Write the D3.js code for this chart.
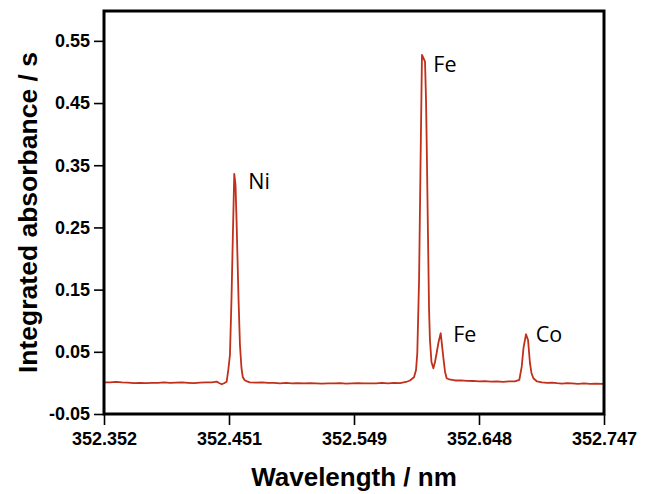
<!DOCTYPE html>
<html>
<head>
<meta charset="utf-8">
<script src="https://cdn.jsdelivr.net/npm/d3@7"></script>
<style>
  html, body { margin: 0; padding: 0; background: #fff; }
  svg { display: block; }
</style>
</head>
<body>
<svg id="chart" width="645" height="494"></svg>
<script>
// Absorption spectrum around 352.5 nm (Ni, Fe, Co lines)
const wavelength = [
  352.3520, 352.3567, 352.3615, 352.3662, 352.3710, 352.3757, 352.3804, 352.3852,
  352.3899, 352.3947, 352.3994, 352.4041, 352.4089, 352.4136, 352.4184, 352.4231,
  352.4278, 352.4326, 352.4373, 352.4410, 352.4429, 352.4450, 352.4468, 352.4489,
  352.4502, 352.4515, 352.4527, 352.4539, 352.4549, 352.4559, 352.4567, 352.4573,
  352.4583, 352.4594, 352.4606, 352.4616, 352.4630, 352.4650, 352.4673, 352.4721,
  352.4768, 352.4816, 352.4863, 352.4910, 352.4958, 352.5005, 352.5053, 352.5100,
  352.5147, 352.5195, 352.5242, 352.5290, 352.5337, 352.5384, 352.5432, 352.5479,
  352.5527, 352.5574, 352.5621, 352.5669, 352.5716, 352.5764, 352.5811, 352.5858,
  352.5906, 352.5937, 352.5969, 352.5985, 352.5995, 352.6009, 352.6020, 352.6032,
  352.6043, 352.6056, 352.6064, 352.6069, 352.6080, 352.6088, 352.6095, 352.6107,
  352.6122, 352.6135, 352.6148, 352.6163, 352.6180, 352.6190, 352.6200, 352.6214,
  352.6227, 352.6248, 352.6293, 352.6340, 352.6388, 352.6435, 352.6483, 352.6530,
  352.6577, 352.6625, 352.6672, 352.6720, 352.6767, 352.6801, 352.6820, 352.6834,
  352.6854, 352.6870, 352.6885, 352.6897, 352.6912, 352.6941, 352.6980, 352.7020,
  352.7059, 352.7099, 352.7138, 352.7178, 352.7217, 352.7265, 352.7312, 352.7359,
  352.7407, 352.7462
];
const absorbance = [
   0.0007,  0.0010,  0.0015,  0.0008,  0.0005, -0.0005, -0.0001, -0.0003,
  -0.0001,  0.0002,  0.0007,  0.0000,  0.0005,  0.0008,  0.0002, -0.0003,
   0.0004,  0.0007,  0.0008,  0.0020, -0.0001, -0.0022, -0.0005,  0.0020,
   0.0208,  0.0449,  0.1334,  0.2460,  0.3361,  0.3184,  0.2621,  0.2138,
   0.1334,  0.0610,  0.0240,  0.0095,  0.0047,  0.0023,  0.0010,  0.0005,
   0.0008, -0.0001,  0.0002, -0.0006, -0.0001, -0.0008, -0.0005, -0.0009,
  -0.0003, -0.0008, -0.0011, -0.0006, -0.0009, -0.0005, -0.0011, -0.0008,
  -0.0003, -0.0009, -0.0006, -0.0008, -0.0001, -0.0006,  0.0000, -0.0003,
   0.0015,  0.0039,  0.0090,  0.0208,  0.0476,  0.1655,  0.3425,  0.5275,
   0.5226,  0.5167,  0.4551,  0.3907,  0.2299,  0.1173,  0.0690,  0.0336,
   0.0235,  0.0336,  0.0481,  0.0658,  0.0798,  0.0610,  0.0422,  0.0180,
   0.0074,  0.0055,  0.0039,  0.0040,  0.0032,  0.0031,  0.0026,  0.0028,
   0.0021,  0.0024,  0.0018,  0.0024,  0.0026,  0.0047,  0.0261,  0.0562,
   0.0782,  0.0690,  0.0320,  0.0160,  0.0074,  0.0023,  0.0007, -0.0001,
   0.0005, -0.0005, -0.0011, -0.0003, -0.0008, -0.0014, -0.0008, -0.0017,
  -0.0013, -0.0017
];

// Axis ticks
const xTickValues = [352.352, 352.45075, 352.5495, 352.64825, 352.747];
const xTickLabels = ["352.352", "352.451", "352.549", "352.648", "352.747"];
const yTickValues = [-0.05, 0.05, 0.15, 0.25, 0.35, 0.45, 0.55];
const yTickLabels = ["-0.05", "0.05", "0.15", "0.25", "0.35", "0.45", "0.55"];

// Element annotations (text anchored at its left baseline, in data units)
const peakNames = ["Ni", "Fe", "Fe", "Co"];
const peakLabelWavelength = [352.4660, 352.6122, 352.6279, 352.6930];
const peakLabelAbsorbance = [0.3114, 0.4997, 0.0653, 0.0650];

const svg = d3.select("#chart");
const margin = { left: 104, right: 41, top: 11, bottom: 80 };
const W = 645, H = 494;

const x = d3.scaleLinear()
  .domain([352.352, 352.747])
  .range([margin.left, W - margin.right]);
const y = d3.scaleLinear()
  .domain([-0.05, 0.598])
  .range([H - margin.bottom, margin.top]);

const data = wavelength.map((w, i) => ({ w, a: absorbance[i] }));

// Spectrum trace
svg.append("path")
  .datum(data)
  .attr("fill", "none")
  .attr("stroke", "#c0301a")
  .attr("stroke-width", 1.8)
  .attr("stroke-linejoin", "round")
  .attr("d", d3.line().x(d => x(d.w)).y(d => y(d.a)));

// Axes
const xAxis = d3.axisBottom(x)
  .tickValues(xTickValues)
  .tickFormat((d, i) => xTickLabels[i])
  .tickSize(11)
  .tickPadding(7);
const yAxis = d3.axisLeft(y)
  .tickValues(yTickValues)
  .tickFormat((d, i) => yTickLabels[i])
  .tickSize(10)
  .tickPadding(4);

const gx = svg.append("g")
  .attr("transform", `translate(0,${y.range()[0]})`)
  .call(xAxis);
const gy = svg.append("g")
  .attr("transform", `translate(${x.range()[0]},0)`)
  .call(yAxis);

[gx, gy].forEach(g => {
  g.select(".domain").remove();
  g.selectAll(".tick line").attr("stroke", "#000").attr("stroke-width", 1.6);
  g.selectAll(".tick text")
    .attr("fill", "#000")
    .style("font-family", "'Liberation Sans', Arial, sans-serif")
    .style("font-weight", "bold")
    .style("font-size", "18px");
});

// Plot frame
svg.append("rect")
  .attr("x", x.range()[0])
  .attr("y", y.range()[1])
  .attr("width", x.range()[1] - x.range()[0])
  .attr("height", y.range()[0] - y.range()[1])
  .attr("fill", "none")
  .attr("stroke", "#000")
  .attr("stroke-width", 3);

// Axis titles
svg.append("text")
  .attr("x", (x.range()[0] + x.range()[1]) / 2)
  .attr("y", 486)
  .attr("text-anchor", "middle")
  .style("font-family", "'Liberation Sans', Arial, sans-serif")
  .style("font-weight", "bold")
  .style("font-size", "26px")
  .text("Wavelength / nm");

svg.append("text")
  .attr("transform", `translate(37,${(y.range()[0] + y.range()[1]) / 2}) rotate(-90)`)
  .attr("text-anchor", "middle")
  .style("font-family", "'Liberation Sans', Arial, sans-serif")
  .style("font-weight", "bold")
  .style("font-size", "26.5px")
  .text("Integrated absorbance / s");

// Element labels
svg.selectAll("text.peak")
  .data(peakNames)
  .join("text")
  .attr("class", "peak")
  .attr("x", (d, i) => x(peakLabelWavelength[i]))
  .attr("y", (d, i) => y(peakLabelAbsorbance[i]))
  .style("font-family", "'Open Sans', sans-serif")
  .style("font-size", "21.5px")
  .attr("fill", "#000")
  .text(d => d);
</script>
</body>
</html>
